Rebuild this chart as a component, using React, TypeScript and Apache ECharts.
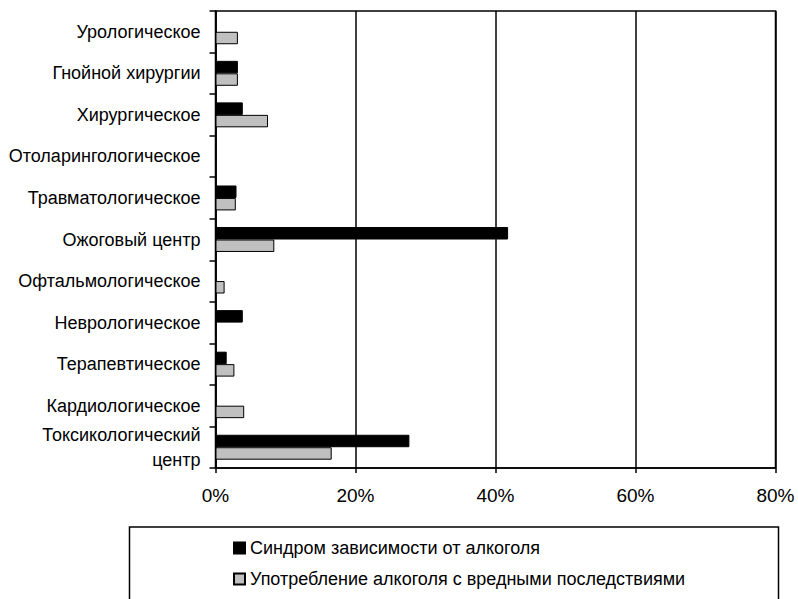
import React, { useEffect, useRef } from "react";
import * as echarts from "echarts";

const categories = [
  "Урологическое",
  "Гнойной хирургии",
  "Хирургическое",
  "Отоларингологическое",
  "Травматологическое",
  "Ожоговый центр",
  "Офтальмологическое",
  "Неврологическое",
  "Терапевтическое",
  "Кардиологическое",
  "Токсикологический\nцентр",
];

const seriesNames = [
  "Синдром зависимости от алкоголя",
  "Употребление алкоголя с вредными последствиями",
];

const dependence = [0, 3.2, 3.9, 0, 3.0, 41.8, 0, 3.9, 1.6, 0, 27.7];
const harmful = [3.2, 3.2, 7.5, 0, 2.9, 8.4, 1.3, 0, 2.7, 4.1, 16.6];

const FONT = "'Liberation Sans', Arial, sans-serif";

export default function App() {
  const ref = useRef<HTMLDivElement>(null);
  useEffect(() => {
    if (!ref.current) return;
    const chart = echarts.init(ref.current, undefined, { renderer: "svg" });
    chart.setOption({
      animation: false,
      backgroundColor: "#fff",
      grid: {
        left: 215.5,
        right: 22.5,
        top: 11,
        bottom: 131,
        show: true,
        borderColor: "#000",
        borderWidth: 1.5,
        containLabel: false,
      },
      legend: {
        show: true,
        orient: "vertical",
        left: 228,
        top: 534,
        itemGap: 13,
        itemWidth: 11,
        itemHeight: 11,
        icon: "rect",
        textStyle: { fontFamily: FONT, fontSize: 18, color: "#000" },
        data: seriesNames,
      },
      graphic: [
        {
          type: "rect",
          shape: { x: 129.5, y: 527, width: 649, height: 90 },
          style: { fill: "none", stroke: "#000", lineWidth: 1.5 },
          z: -1,
        },
      ],
      xAxis: {
        type: "value",
        min: 0,
        max: 80,
        interval: 20,
        axisLine: { show: true, lineStyle: { color: "#000", width: 1.5 } },
        axisTick: { show: true, length: 5, lineStyle: { color: "#000", width: 1.5 } },
        splitLine: { show: true, lineStyle: { color: "#000", width: 1.5 } },
        axisLabel: {
          formatter: "{value}%",
          fontFamily: FONT,
          fontSize: 19,
          color: "#000",
          margin: 18,
        },
      },
      yAxis: {
        type: "category",
        inverse: true,
        data: categories,
        axisLine: { show: true, lineStyle: { color: "#000", width: 1.5 } },
        axisTick: { show: true, length: 6, alignWithLabel: false, lineStyle: { color: "#000", width: 1.5 } },
        axisLabel: {
          fontFamily: FONT,
          fontSize: 18,
          color: "#000",
          margin: 15,
          lineHeight: 25,
          interval: 0,
          padding: [0, 0, 6, 0],
        },
      },
      series: [
        {
          name: seriesNames[0],
          type: "bar",
          data: dependence,
          barGap: "0%",
          barCategoryGap: "40%",
          itemStyle: { color: "#000", borderColor: "#000", borderWidth: 1 },
        },
        {
          name: seriesNames[1],
          type: "bar",
          data: harmful,
          barGap: "0%",
          barCategoryGap: "40%",
          itemStyle: { color: "#c0c0c0", borderColor: "#000", borderWidth: 1 },
        },
      ],
    });
    return () => chart.dispose();
  }, []);
  return (
    <div
      ref={ref}
      style={{ position: "fixed", left: 0, top: 0, width: 798, height: 599, background: "#fff" }}
    />
  );
}
